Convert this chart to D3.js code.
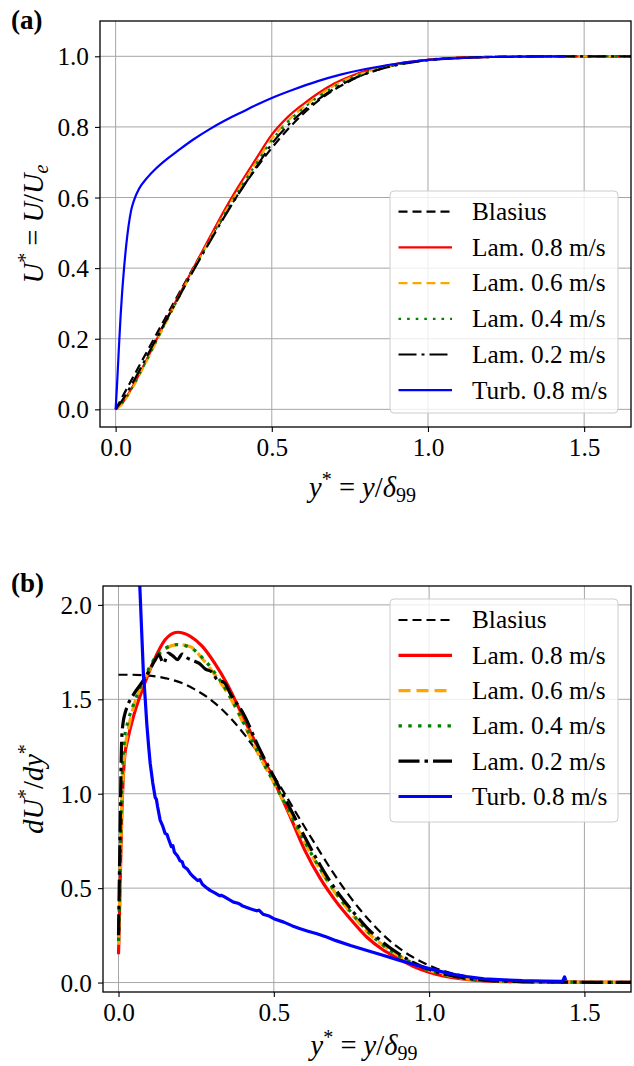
<!DOCTYPE html>
<html>
<head>
<meta charset="utf-8">
<script src="https://cdn.jsdelivr.net/npm/d3@7"></script>
<style>
  html, body { margin: 0; padding: 0; background: #fff; }
  svg { display: block; }
  text { font-family: "Liberation Serif", "DejaVu Serif", serif; fill: #000; }
</style>
</head>
<body>
<svg id="chart" width="634" height="1066"></svg>
<script>
// ---------------- DATA ----------------
const xTicks = [0, 0.5, 1.0, 1.5];
const yTicksA = [0, 0.2, 0.4, 0.6, 0.8, 1.0];
const yTicksB = [0, 0.5, 1.0, 1.5, 2.0];
const seriesNames = ["Blasius", "Lam. 0.8 m/s", "Lam. 0.6 m/s", "Lam. 0.4 m/s", "Lam. 0.2 m/s", "Turb. 0.8 m/s"];

// Panel (a): U* vs y*
const aLamX     = [0, 0.02, 0.05, 0.1, 0.15, 0.2, 0.25, 0.3, 0.35, 0.4, 0.45, 0.5, 0.55, 0.6, 0.65, 0.7, 0.75, 0.8, 0.85, 0.9, 0.95, 1.0, 1.1, 1.2, 1.3, 1.4, 1.5, 1.65];
const aBlasius  = [0, 0.033, 0.0815, 0.163, 0.244, 0.324, 0.4025, 0.479, 0.551, 0.62, 0.683, 0.7405, 0.792, 0.8365, 0.875, 0.9056, 0.930, 0.9505, 0.965, 0.9767, 0.984, 0.990, 0.9962, 0.9986, 0.9996, 0.9999, 1.0, 1.0];
const aLam08    = [0, 0.016, 0.058, 0.142, 0.232, 0.318, 0.402, 0.485, 0.567, 0.641, 0.71, 0.778, 0.827, 0.864, 0.896, 0.923, 0.943, 0.959, 0.970, 0.979, 0.985, 0.990, 0.996, 0.998, 0.999, 1.0, 1.0, 1.0];
const aLam06    = [0, 0.014, 0.054, 0.137, 0.226, 0.312, 0.397, 0.478, 0.558, 0.631, 0.699, 0.766, 0.816, 0.855, 0.889, 0.917, 0.939, 0.955, 0.967, 0.977, 0.984, 0.989, 0.995, 0.998, 0.999, 1.0, 1.0, 1.0];
const aLam04    = [0, 0.016, 0.057, 0.140, 0.228, 0.313, 0.397, 0.477, 0.556, 0.628, 0.696, 0.762, 0.813, 0.852, 0.886, 0.915, 0.937, 0.954, 0.967, 0.977, 0.984, 0.989, 0.995, 0.998, 0.999, 1.0, 1.0, 1.0];
const aLam02    = [0, 0.024, 0.068, 0.150, 0.233, 0.314, 0.395, 0.472, 0.548, 0.619, 0.686, 0.752, 0.803, 0.844, 0.879, 0.908, 0.932, 0.950, 0.964, 0.975, 0.983, 0.989, 0.995, 0.998, 0.999, 1.0, 1.0, 1.0];
const aTurbX    = [0, 0.004, 0.008, 0.012, 0.016, 0.02, 0.027, 0.034, 0.041, 0.05, 0.06, 0.075, 0.1, 0.13, 0.164, 0.2, 0.25, 0.3, 0.35, 0.4, 0.45, 0.5, 0.57, 0.645, 0.72, 0.8, 0.9, 1.0, 1.1, 1.2, 1.3, 1.44];
const aTurb     = [0, 0.06, 0.13, 0.2, 0.265, 0.32, 0.4, 0.465, 0.517, 0.565, 0.595, 0.625, 0.655, 0.683, 0.709, 0.733, 0.765, 0.793, 0.818, 0.84, 0.862, 0.882, 0.906, 0.929, 0.948, 0.964, 0.979, 0.99, 0.995, 0.998, 0.999, 1.0];

// Panel (b): dU*/dy* vs y*
const bBlasiusX = [0, 0.0407, 0.0815, 0.122, 0.163, 0.204, 0.244, 0.285, 0.326, 0.367, 0.407, 0.448, 0.489, 0.530, 0.570, 0.611, 0.652, 0.692, 0.733, 0.774, 0.815, 0.855, 0.896, 0.937, 0.978, 1.018, 1.100, 1.222, 1.426, 1.65];
const bBlasius  = [1.630, 1.630, 1.6275, 1.621, 1.6075, 1.586, 1.554, 1.512, 1.457, 1.389, 1.310, 1.219, 1.120, 1.014, 0.9035, 0.792, 0.683, 0.579, 0.4816, 0.3934, 0.3154, 0.248, 0.191, 0.1447, 0.1074, 0.0781, 0.039, 0.0118, 0.001, 0.0];
const bLamX     = [0, 0.005, 0.01, 0.015, 0.02, 0.03, 0.05, 0.08, 0.11, 0.15, 0.19, 0.23, 0.27, 0.31, 0.35, 0.4, 0.45, 0.5, 0.55, 0.6, 0.65, 0.7, 0.75, 0.8, 0.85, 0.9, 0.95, 1.0, 1.1, 1.2, 1.3, 1.45, 1.65];
const bLam08    = [0.15, 0.5, 0.86, 1.08, 1.2, 1.29, 1.42, 1.565, 1.69, 1.815, 1.855, 1.835, 1.78, 1.69, 1.58, 1.41, 1.24, 1.07, 0.89, 0.7, 0.55, 0.43, 0.33, 0.24, 0.175, 0.128, 0.085, 0.055, 0.02, 0.008, 0.004, 0.002, 0.001];
const bLam06    = [0.2, 0.55, 0.9, 1.1, 1.22, 1.33, 1.47, 1.59, 1.69, 1.765, 1.79, 1.78, 1.715, 1.63, 1.535, 1.38, 1.21, 1.06, 0.9, 0.74, 0.595, 0.47, 0.365, 0.27, 0.2, 0.145, 0.1, 0.065, 0.025, 0.01, 0.005, 0.002, 0.001];
const bLam04    = [0.22, 0.6, 1.0, 1.2, 1.3, 1.38, 1.48, 1.6, 1.7, 1.77, 1.79, 1.775, 1.72, 1.64, 1.54, 1.385, 1.215, 1.06, 0.905, 0.745, 0.6, 0.475, 0.37, 0.275, 0.2, 0.145, 0.1, 0.065, 0.025, 0.01, 0.005, 0.002, 0.001];
const bLam02X   = [0, 0.005, 0.01, 0.015, 0.02, 0.03, 0.05, 0.08, 0.1, 0.115, 0.13, 0.145, 0.16, 0.175, 0.19, 0.205, 0.22, 0.24, 0.26, 0.28, 0.3, 0.32, 0.34, 0.36, 0.38, 0.4, 0.45, 0.5, 0.55, 0.6, 0.65, 0.7, 0.75, 0.8, 0.85, 0.9, 0.95, 1.0, 1.1, 1.2, 1.3, 1.45, 1.65];
const bLam02    = [0.25, 0.8, 1.28, 1.38, 1.42, 1.47, 1.53, 1.6, 1.655, 1.7, 1.735, 1.69, 1.745, 1.73, 1.71, 1.74, 1.72, 1.705, 1.69, 1.66, 1.645, 1.6, 1.59, 1.53, 1.48, 1.43, 1.25, 1.09, 0.93, 0.77, 0.62, 0.49, 0.385, 0.29, 0.215, 0.155, 0.105, 0.07, 0.028, 0.01, 0.005, 0.002, 0.001];
const bTurbX    = [0.055, 0.062, 0.069, 0.075, 0.080, 0.086, 0.091, 0.097, 0.102, 0.110, 0.118, 0.122, 0.126, 0.134, 0.142, 0.150, 0.156, 0.161, 0.170, 0.175, 0.180, 0.190, 0.198, 0.205, 0.210, 0.222, 0.228, 0.232, 0.241, 0.255, 0.262, 0.270, 0.285, 0.295, 0.310, 0.325, 0.332, 0.340, 0.355, 0.370, 0.385, 0.392, 0.400, 0.424, 0.445, 0.452, 0.465, 0.485, 0.500, 0.532, 0.560, 0.585, 0.610, 0.639, 0.672, 0.700, 0.747, 0.800, 0.854, 0.900, 0.962, 1.010, 1.069, 1.120, 1.177, 1.240, 1.300, 1.370, 1.430, 1.436, 1.440];
const bTurb     = [2.6, 2.35, 2.08, 1.84, 1.64, 1.50, 1.37, 1.25, 1.16, 1.06, 0.98, 0.97, 0.93, 0.86, 0.83, 0.79, 0.785, 0.76, 0.72, 0.725, 0.69, 0.67, 0.645, 0.64, 0.615, 0.60, 0.585, 0.575, 0.56, 0.54, 0.545, 0.52, 0.50, 0.488, 0.475, 0.46, 0.462, 0.455, 0.44, 0.426, 0.42, 0.414, 0.405, 0.391, 0.38, 0.383, 0.362, 0.352, 0.338, 0.32, 0.30, 0.285, 0.272, 0.258, 0.24, 0.222, 0.196, 0.17, 0.143, 0.12, 0.09, 0.07, 0.046, 0.032, 0.02, 0.014, 0.01, 0.008, 0.007, 0.03, 0.012];

// ---------------- LAYOUT ----------------
const svg = d3.select("#chart");
const FONT = 25.3;     // tick + legend text
const LFONT = 28.5;    // axis labels
const SUB = 20;
const xDomain = [-0.05, 1.65];

const panels = [
  { id: "a", label: "(a)", labelY: 29, left: 100, right: 631, top: 21, bottom: 427, yDomain: [-0.05, 1.1], yTicks: yTicksA,
    xLabelY: 497, legTop: 191, legBottom: 413, legRow0: 211.7, legStep: 35.7, thick: false },
  { id: "b", label: "(b)", labelY: 592, left: 103, right: 631, top: 586, bottom: 992, yDomain: [-0.05, 2.1], yTicks: yTicksB,
    xLabelY: 1055, legTop: 599, legBottom: 822, legRow0: 620, legStep: 35.3, thick: true }
];

function styles(thick) {
  const w = thick ? 3.2 : 2.2;
  return [
    { color: "#000000", width: 2.2, dash: "9,5" },
    { color: "#ff0000", width: w, dash: null },
    { color: "#ffa500", width: w, dash: thick ? "12,6" : "9,5" },
    { color: "#008000", width: w, dash: thick ? "3.4,6.4" : "2.6,6" },
    { color: "#000000", width: w, dash: thick ? "21,5,3.5,5" : "18,5,3,5" },
    { color: "#0000ff", width: w, dash: null }
  ];
}

panels.forEach((p, pi) => {
  const x = d3.scaleLinear().domain(xDomain).range([p.left, p.right]);
  const y = d3.scaleLinear().domain(p.yDomain).range([p.bottom, p.top]);
  const g = svg.append("g");

  svg.append("defs").append("clipPath").attr("id", "clip" + p.id)
    .append("rect").attr("x", p.left).attr("y", p.top).attr("width", p.right - p.left).attr("height", p.bottom - p.top);

  // grid
  const grid = g.append("g").attr("stroke", "#a6a6a6").attr("stroke-width", 1);
  xTicks.forEach(t => grid.append("line").attr("x1", x(t)).attr("x2", x(t)).attr("y1", p.top).attr("y2", p.bottom));
  p.yTicks.forEach(t => grid.append("line").attr("x1", p.left).attr("x2", p.right).attr("y1", y(t)).attr("y2", y(t)));

  let data;
  if (pi === 0) {
    data = [
      aLamX.map((v, i) => [v, aBlasius[i]]),
      aLamX.map((v, i) => [v, aLam08[i]]),
      aLamX.map((v, i) => [v, aLam06[i]]),
      aLamX.map((v, i) => [v, aLam04[i]]),
      aLamX.map((v, i) => [v, aLam02[i]]),
      aTurbX.map((v, i) => [v, aTurb[i]])
    ];
  } else {
    data = [
      bBlasiusX.map((v, i) => [v, bBlasius[i]]),
      bLamX.map((v, i) => [v, bLam08[i]]),
      bLamX.map((v, i) => [v, bLam06[i]]),
      bLamX.map((v, i) => [v, bLam04[i]]),
      bLam02X.map((v, i) => [v, bLam02[i]]),
      bTurbX.map((v, i) => [v, bTurb[i]])
    ];
  }
  const st = styles(p.thick);
  const lines = g.append("g").attr("clip-path", `url(#clip${p.id})`);
  data.forEach((d, i) => {
    const isTurbB = (pi === 1 && i === 5);
    const line = d3.line().x(v => x(v[0])).y(v => y(v[1]))
      .curve(isTurbB ? d3.curveLinear : d3.curveMonotoneX);
    lines.append("path").datum(d).attr("d", line).attr("fill", "none")
      .attr("stroke", st[i].color).attr("stroke-width", st[i].width)
      .attr("stroke-dasharray", st[i].dash).attr("stroke-linejoin", "round");
  });

  // axes
  const xAxis = d3.axisBottom(x).tickValues(xTicks).tickFormat(d3.format(".1f")).tickSize(5).tickPadding(5);
  const yAxis = d3.axisLeft(y).tickValues(p.yTicks).tickFormat(d3.format(".1f")).tickSize(5).tickPadding(6);
  const gx = g.append("g").attr("transform", `translate(0,${p.bottom})`).call(xAxis);
  const gy = g.append("g").attr("transform", `translate(${p.left},0)`).call(yAxis);
  [gx, gy].forEach(ax => {
    ax.select(".domain").remove();
    ax.selectAll(".tick line").attr("stroke", "#000").attr("stroke-width", 1.1);
    ax.selectAll(".tick text").attr("font-size", FONT).attr("font-family", "Liberation Serif, serif").attr("fill", "#000");
  });
  gx.selectAll(".tick text").attr("dy", "0.76em");
  gy.selectAll(".tick text").attr("dy", "0.34em");

  // frame
  g.append("rect").attr("x", p.left).attr("y", p.top).attr("width", p.right - p.left).attr("height", p.bottom - p.top)
    .attr("fill", "none").attr("stroke", "#000").attr("stroke-width", 1.3);

  // panel label
  svg.append("text").attr("x", 11).attr("y", p.labelY).attr("font-size", 27).attr("font-weight", "bold").text(p.label);

  // x label: y* = y/δ99
  const cx = (p.left + p.right) / 2 - 3;
  const xl = svg.append("text").attr("x", cx).attr("y", p.xLabelY).attr("text-anchor", "middle").attr("font-size", LFONT);
  xl.append("tspan").attr("font-style", "italic").text("y");
  xl.append("tspan").attr("font-size", SUB).attr("dy", -11).text("*");
  xl.append("tspan").attr("dy", 11).text(" = ");
  xl.append("tspan").attr("font-style", "italic").text("y");
  xl.append("tspan").text("/");
  xl.append("tspan").attr("font-style", "italic").text("δ");
  xl.append("tspan").attr("font-size", SUB).attr("dy", 5).text("99");

  // y label
  const cy = (p.top + p.bottom) / 2;
  const yl = svg.append("text").attr("transform", `translate(43,${cy}) rotate(-90)`).attr("text-anchor", "middle").attr("font-size", LFONT);
  if (pi === 0) {
    yl.append("tspan").attr("font-style", "italic").text("U");
    yl.append("tspan").attr("font-size", SUB).attr("dy", -11).text("*");
    yl.append("tspan").attr("dy", 11).text(" = ");
    yl.append("tspan").attr("font-style", "italic").text("U");
    yl.append("tspan").text("/");
    yl.append("tspan").attr("font-style", "italic").text("U");
    yl.append("tspan").attr("font-style", "italic").attr("font-size", SUB).attr("dy", 5).text("e");
  } else {
    yl.append("tspan").attr("font-style", "italic").text("dU");
    yl.append("tspan").attr("font-size", SUB).attr("dy", -11).text("*");
    yl.append("tspan").attr("dy", 11).text("/");
    yl.append("tspan").attr("font-style", "italic").text("dy");
    yl.append("tspan").attr("font-size", SUB).attr("dy", -11).text("*");
  }

  // legend
  const leg = svg.append("g");
  leg.append("rect").attr("x", 390).attr("y", p.legTop).attr("width", 228).attr("height", p.legBottom - p.legTop)
    .attr("rx", 4).attr("fill", "#fff").attr("fill-opacity", 0.8).attr("stroke", "#cccccc").attr("stroke-width", 1);
  seriesNames.forEach((name, i) => {
    const ry = p.legRow0 + i * p.legStep;
    leg.append("line").attr("x1", 398.5).attr("x2", 452).attr("y1", ry).attr("y2", ry)
      .attr("stroke", st[i].color).attr("stroke-width", st[i].width).attr("stroke-dasharray", st[i].dash);
    leg.append("text").attr("x", 472).attr("y", ry).attr("dy", "0.33em").attr("font-size", FONT).text(name);
  });
});
</script>
</body>
</html>
